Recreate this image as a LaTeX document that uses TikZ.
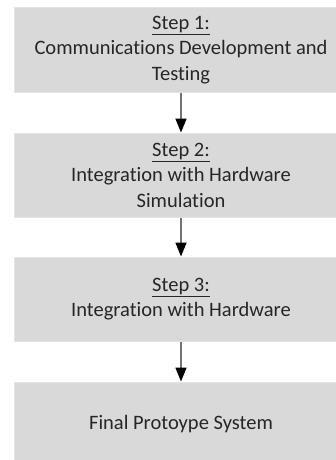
\documentclass[tikz,border=0pt]{standalone}
\usepackage{fontspec}
\setmainfont{Carlito}[Ligatures=NoCommon]
\usetikzlibrary{arrows.meta}
\definecolor{boxfill}{HTML}{D9D9D9}
\definecolor{boxline}{HTML}{E4E4E4}
\definecolor{txt}{HTML}{262626}
\tikzset{
  stepbox/.style={draw=boxline, line width=1pt, fill=boxfill,
    minimum width=334pt, minimum height=84pt, inner sep=0pt,
    align=center, text=txt, font=\fontsize{20.5}{25.5}\selectfont},
  flow/.style={draw=gray!90!black, line width=1.6pt,
    -{Triangle[width=11pt,length=14pt,black]}}
}
\begin{document}
\begin{tikzpicture}[x=1pt,y=1pt]
\useasboundingbox (0,0) rectangle (336,-460);
\clip (0,0) rectangle (336,-460);
\node[stepbox] (s1) at (181,-50) {\underline{Step 1:}\\Communications Development and\\Testing};
\node[stepbox] (s2) at (181,-175) {\underline{Step 2:}\\Integration with Hardware\\Simulation};
\node[stepbox] (s3) at (181,-299) {\underline{Step 3:}\\Integration with Hardware};
\node[stepbox] (s4) at (181,-424) {Final Protoype System};
\draw[flow] (s1) -- (s2);
\draw[flow] (s2) -- (s3);
\draw[flow] (s3) -- (s4);
\end{tikzpicture}
\end{document}
